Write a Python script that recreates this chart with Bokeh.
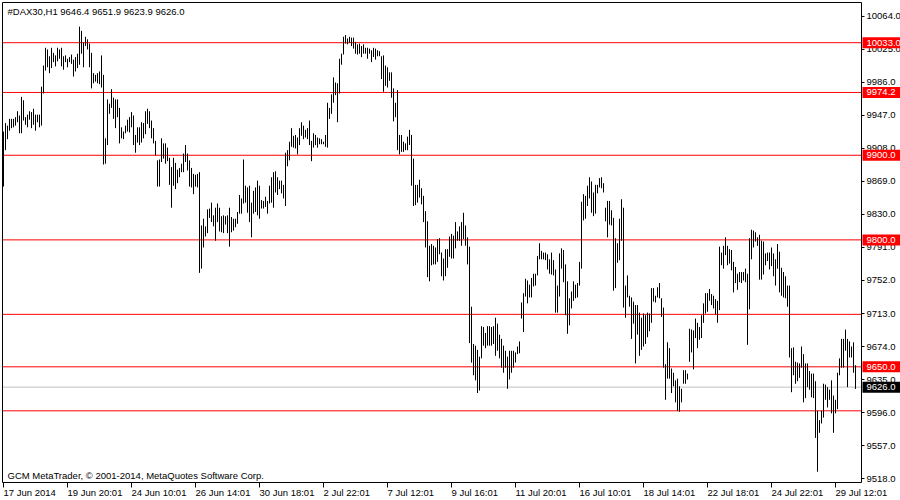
from bokeh.plotting import figure
from bokeh.models import Range1d, ColumnDataSource, GlobalInlineStyleSheet
from bokeh.core.properties import value
from bokeh.embed import file_html
from bokeh.resources import INLINE

# ---------------- data ----------------
symbol = "#DAX30,H1"
last_ohlc = [9646.4, 9651.9, 9623.9, 9626.0]

highs = [
    9928, 9938, 9935, 9943, 9943, 9943, 9945, 9952, 9947, 9969,
    9965, 9945, 9948, 9952, 9951, 9955, 9948, 9948, 9948, 9981,
    10006, 10027, 10025, 10017, 10027, 10021, 10018, 10027, 10025, 10027,
    10017, 10018, 10014, 10016, 10019, 10013, 10016, 10020, 10052, 10047,
    10033, 10040, 10037, 10032, 10021, 9997, 9995, 9997, 9999, 10018,
    9995, 9920, 9966, 9961, 9978, 9968, 9966, 9966, 9956, 9933,
    9928, 9935, 9942, 9945, 9951, 9947, 9924, 9933, 9933, 9939,
    9938, 9952, 9955, 9952, 9941, 9932, 9917, 9894, 9895, 9920,
    9914, 9914, 9909, 9897, 9886, 9897, 9891, 9883, 9885, 9890,
    9902, 9912, 9902, 9894, 9885, 9878, 9877, 9878, 9880, 9817,
    9825, 9816, 9836, 9837, 9844, 9829, 9838, 9843, 9838, 9828,
    9829, 9828, 9829, 9838, 9827, 9825, 9825, 9833, 9853, 9849,
    9895, 9864, 9862, 9864, 9844, 9858, 9862, 9870, 9864, 9847,
    9846, 9851, 9846, 9864, 9874, 9880, 9881, 9874, 9870, 9870,
    9865, 9903, 9906, 9916, 9932, 9923, 9924, 9921, 9932, 9939,
    9935, 9930, 9932, 9941, 9917, 9926, 9924, 9921, 9920, 9919,
    9916, 9924, 9962, 9956, 9972, 9992, 9986, 9985, 10014, 10020,
    10040, 10042, 10038, 10040, 10039, 10039, 10034, 10031, 10032, 10029,
    10031, 10027, 10027, 10026, 10024, 10027, 10026, 10024, 10023, 10017,
    10018, 10006, 10004, 9998, 9998, 9979, 9962, 9977, 9924, 9924,
    9916, 9914, 9922, 9930, 9924, 9896, 9865, 9865, 9871, 9861,
    9852, 9834, 9822, 9793, 9795, 9793, 9791, 9801, 9802, 9785,
    9778, 9789, 9789, 9804, 9807, 9805, 9821, 9810, 9816, 9821,
    9832, 9817, 9803, 9792, 9721, 9677, 9675, 9670, 9662, 9698,
    9697, 9690, 9698, 9698, 9697, 9698, 9708, 9701, 9688, 9683,
    9675, 9669, 9662, 9669, 9669, 9669, 9667, 9674, 9680, 9726,
    9737, 9754, 9752, 9747, 9755, 9760, 9760, 9781, 9796, 9787,
    9785, 9785, 9783, 9777, 9785, 9776, 9765, 9746, 9784, 9790,
    9788, 9771, 9751, 9731, 9739, 9751, 9747, 9749, 9774, 9845,
    9854, 9852, 9864, 9874, 9869, 9856, 9865, 9865, 9873, 9874,
    9867, 9838, 9846, 9846, 9835, 9826, 9802, 9796, 9825, 9848,
    9838, 9746, 9758, 9734, 9732, 9727, 9723, 9723, 9714, 9708,
    9713, 9711, 9714, 9713, 9743, 9743, 9734, 9744, 9749, 9731,
    9720, 9653, 9679, 9672, 9648, 9643, 9634, 9636, 9627, 9624,
    9646, 9646, 9642, 9695, 9694, 9693, 9707, 9702, 9697, 9711,
    9725, 9737, 9737, 9742, 9736, 9734, 9730, 9728, 9792, 9785,
    9793, 9803, 9793, 9789, 9788, 9774, 9768, 9760, 9762, 9762,
    9762, 9766, 9760, 9802, 9812, 9811, 9809, 9803, 9806, 9799,
    9798, 9784, 9785, 9785, 9791, 9784, 9777, 9795, 9786, 9767,
    9762, 9757, 9746, 9746, 9672, 9673, 9656, 9655, 9654, 9674,
    9665, 9654, 9654, 9645, 9642, 9642, 9633, 9598, 9587, 9598,
    9630, 9629, 9626, 9623, 9634, 9616, 9611, 9643, 9660, 9683,
    9683, 9694, 9683, 9680, 9674, 9679, 9651.9,
]

lows = [
    9863, 9906, 9919, 9929, 9932, 9933, 9935, 9939, 9926, 9926,
    9941, 9936, 9933, 9942, 9932, 9936, 9929, 9939, 9933, 9935,
    9973, 10000, 10004, 9997, 10003, 10010, 10005, 10011, 10014, 10005,
    10001, 10010, 10004, 10010, 10008, 9993, 9999, 10003, 10007, 10020,
    10004, 10029, 10025, 10004, 9979, 9985, 9987, 9985, 9984, 9980,
    9889, 9890, 9912, 9949, 9956, 9943, 9932, 9945, 9914, 9920,
    9919, 9926, 9928, 9927, 9933, 9912, 9903, 9915, 9912, 9915,
    9920, 9925, 9937, 9932, 9920, 9914, 9900, 9863, 9863, 9892,
    9896, 9890, 9893, 9865, 9838, 9864, 9860, 9867, 9874, 9880,
    9880, 9892, 9882, 9863, 9862, 9854, 9863, 9862, 9761, 9766,
    9791, 9804, 9808, 9826, 9821, 9816, 9799, 9821, 9810, 9809,
    9808, 9818, 9808, 9792, 9809, 9811, 9815, 9819, 9831, 9831,
    9843, 9844, 9832, 9821, 9803, 9831, 9833, 9829, 9825, 9837,
    9837, 9839, 9831, 9843, 9844, 9838, 9856, 9853, 9860, 9855,
    9849, 9840, 9887, 9894, 9910, 9909, 9908, 9901, 9912, 9923,
    9919, 9921, 9919, 9912, 9893, 9909, 9912, 9909, 9913, 9913,
    9913, 9910, 9909, 9943, 9949, 9962, 9971, 9939, 9973, 10007,
    10019, 10032, 10031, 10033, 10029, 10026, 10020, 10019, 10020, 10016,
    10020, 10020, 10014, 10020, 10010, 10016, 10013, 10017, 10017, 9990,
    9975, 9982, 9980, 9988, 9968, 9940, 9945, 9906, 9901, 9904,
    9904, 9906, 9906, 9912, 9864, 9840, 9841, 9844, 9850, 9842,
    9821, 9791, 9756, 9751, 9770, 9771, 9771, 9774, 9783, 9757,
    9752, 9757, 9767, 9780, 9778, 9778, 9790, 9799, 9799, 9793,
    9801, 9793, 9771, 9678, 9655, 9640, 9634, 9619, 9622, 9660,
    9675, 9672, 9675, 9675, 9675, 9677, 9663, 9669, 9660, 9649,
    9643, 9649, 9624, 9635, 9643, 9649, 9655, 9665, 9666, 9707,
    9691, 9733, 9725, 9732, 9732, 9745, 9746, 9758, 9777, 9777,
    9777, 9776, 9765, 9760, 9759, 9758, 9714, 9714, 9733, 9766,
    9750, 9711, 9689, 9699, 9719, 9728, 9731, 9732, 9746, 9766,
    9823, 9825, 9840, 9849, 9832, 9828, 9831, 9855, 9862, 9861,
    9856, 9822, 9803, 9818, 9817, 9740, 9743, 9773, 9776, 9799,
    9720, 9708, 9732, 9721, 9683, 9701, 9654, 9688, 9663, 9670,
    9674, 9677, 9685, 9692, 9702, 9727, 9726, 9732, 9731, 9709,
    9649, 9611, 9636, 9636, 9619, 9627, 9608, 9598, 9597, 9608,
    9630, 9630, 9635, 9656, 9667, 9647, 9684, 9672, 9682, 9684,
    9702, 9713, 9715, 9728, 9723, 9719, 9712, 9702, 9717, 9770,
    9766, 9782, 9770, 9772, 9764, 9738, 9749, 9741, 9750, 9749,
    9752, 9750, 9676, 9718, 9777, 9791, 9798, 9793, 9753, 9753,
    9759, 9770, 9775, 9765, 9769, 9757, 9746, 9766, 9738, 9734,
    9732, 9731, 9721, 9661, 9620, 9640, 9630, 9633, 9637, 9649,
    9608, 9613, 9626, 9623, 9614, 9613, 9566, 9526, 9572, 9583,
    9590, 9611, 9602, 9611, 9595, 9572, 9595, 9600, 9640, 9649,
    9649, 9669, 9626, 9661, 9661, 9643, 9623.9,
]

date_tick_bars = [0, 32, 64, 96, 128, 160, 192, 224, 256, 288, 320, 352, 384, 416]
date_labels = ["17 Jun 2014", "19 Jun 20:01", "24 Jun 10:01", "26 Jun 14:01",
               "30 Jun 18:01", "2 Jul 22:01", "7 Jul 12:01", "9 Jul 16:01",
               "11 Jul 20:01", "16 Jul 10:01", "18 Jul 14:01", "22 Jul 18:01",
               "24 Jul 22:01", "29 Jul 12:01"]

price_ticks = [9518, 9557, 9596, 9635, 9674, 9713, 9752, 9791, 9830, 9869,
               9908, 9947, 9986, 10025, 10064]

red_levels = [10033.0, 9974.2, 9900.0, 9800.0, 9712.0, 9650.0, 9598.0]
labelled_levels = [10033.0, 9974.2, 9900.0, 9800.0, 9650.0]
close_level = 9626.0
copyright_text = "GCM MetaTrader, \u00a9 2001-2014, MetaQuotes Software Corp."

# ---------------- layout (scale of the MetaTrader window) ----------------
FONT = value("Liberation Sans")
FS = value("9.5px")
PXX = 0.5                 # bars per pixel
PXY = 567.2 / 480.0       # price per pixel
x_lo, x_hi = -1.5, -1.5 + 900 * PXX
y_hi = 10082.863
y_lo = y_hi - 500 * PXY

chart_left = x_lo + 2 * PXX
chart_right = x_lo + 861 * PXX
chart_top = y_hi - 2 * PXY
chart_bottom = y_hi - 482 * PXY

p = figure(width=900, height=500, output_backend="svg", toolbar_location=None,
           x_range=Range1d(x_lo, x_hi), y_range=Range1d(y_lo, y_hi),
           x_axis_location=None, y_axis_location=None,
           min_border_left=0, min_border_right=0, min_border_top=0, min_border_bottom=0)
p.stylesheets = [GlobalInlineStyleSheet(css="html,body{margin:0 !important;padding:0;overflow:hidden;}")]
p.background_fill_color = "white"
p.border_fill_color = "white"
p.outline_line_color = None
p.grid.visible = False

# horizontal levels (drawn inside the chart box)
nl = len(red_levels)
p.segment(x0=[chart_left] * nl, y0=red_levels, x1=[chart_right] * nl, y1=red_levels,
          line_color="#ff0000", line_width=1)
p.segment(x0=[chart_left], y0=[close_level], x1=[chart_right], y1=[close_level],
          line_color="#c0c0c0", line_width=1)

# price bars (high-low)
src = ColumnDataSource(dict(bar=list(range(len(highs))), high=highs, low=lows))
p.segment(x0="bar", y0="low", x1="bar", y1="high", source=src,
          line_color="black", line_width=1)

# chart box
p.segment(x0=[chart_left, chart_left, chart_left, chart_right],
          y0=[chart_top, chart_bottom, chart_top, chart_top],
          x1=[chart_right, chart_right, chart_left, chart_right],
          y1=[chart_top, chart_bottom, chart_bottom, chart_bottom],
          line_color="black", line_width=1)

# price scale on the right
nt = len(price_ticks)
p.segment(x0=[chart_right] * nt, y0=price_ticks, x1=[chart_right + 3 * PXX] * nt, y1=price_ticks,
          line_color="black", line_width=1)
p.text(x=[chart_right + 5 * PXX] * nt, y=price_ticks, text=[f"{t:.1f}" for t in price_ticks],
       text_font=FONT, text_font_size=FS, text_color="black",
       text_align="left", text_baseline="middle")

# price tags
tag_x = chart_right + 20 * PXX
p.rect(x=[tag_x] * len(labelled_levels), y=labelled_levels, width=38, height=11,
       width_units="screen", height_units="screen", fill_color="#ff0000", line_color=None)
p.text(x=[chart_right + 5 * PXX] * len(labelled_levels), y=labelled_levels,
       text=[f"{v:.1f}" for v in labelled_levels],
       text_font=FONT, text_font_size=FS, text_color="white",
       text_align="left", text_baseline="middle")
p.rect(x=[tag_x], y=[close_level], width=38, height=11,
       width_units="screen", height_units="screen", fill_color="black", line_color=None)
p.text(x=[chart_right + 5 * PXX], y=[close_level], text=[f"{close_level:.1f}"],
       text_font=FONT, text_font_size=FS, text_color="white",
       text_align="left", text_baseline="middle")

# time scale below
nd = len(date_tick_bars)
p.segment(x0=date_tick_bars, y0=[chart_bottom] * nd, x1=date_tick_bars,
          y1=[chart_bottom - 5 * PXY] * nd, line_color="black", line_width=1)
p.text(x=date_tick_bars, y=[chart_bottom - 10 * PXY] * nd, text=date_labels,
       text_font=FONT, text_font_size=FS, text_color="black",
       text_align="left", text_baseline="middle")

# header and footer texts
header = symbol + "  " + " ".join(f"{v:.1f}" for v in last_ohlc)
p.text(x=[chart_left + 5 * PXX], y=[chart_top - 8.5 * PXY], text=[header],
       text_font=FONT, text_font_size=FS, text_color="black",
       text_align="left", text_baseline="middle")
p.text(x=[chart_left + 5 * PXX], y=[chart_bottom + 7.5 * PXY], text=[copyright_text],
       text_font=FONT, text_font_size=FS, text_color="black",
       text_align="left", text_baseline="middle")

open("out.html", "w").write(file_html(p, INLINE))
